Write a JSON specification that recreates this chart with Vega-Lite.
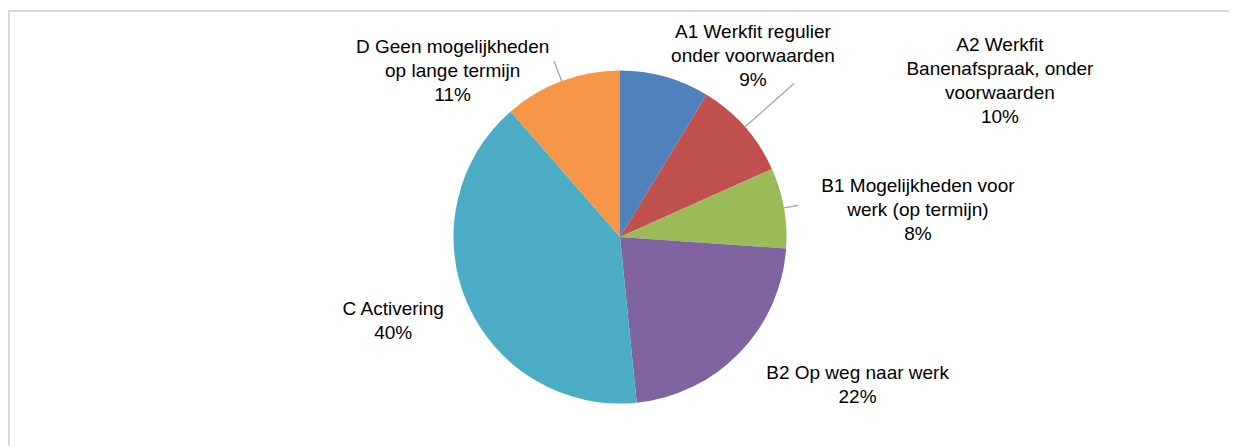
{
  "$schema": "https://vega.github.io/schema/vega-lite/v6.json",
  "width": 1222,
  "height": 452,
  "autosize": "none",
  "padding": {"left": 9, "top": 11, "right": -2, "bottom": -17},
  "background": "white",
  "view": {"stroke": "#d9d9d9", "strokeWidth": 2},
  "config": {"text": {"font": "Liberation Sans"}},
  "data": {
    "values": [
      {"code": "A1", "category": "A1 Werkfit regulier\nonder voorwaarden", "value": 8.7},
      {"code": "A2", "category": "A2 Werkfit\nBanenafspraak, onder\nvoorwaarden", "value": 9.6},
      {"code": "B1", "category": "B1 Mogelijkheden voor\nwerk (op termijn)", "value": 7.8},
      {"code": "B2", "category": "B2 Op weg naar werk", "value": 22.3},
      {"code": "C", "category": "C Activering", "value": 40.2},
      {"code": "D", "category": "D Geen mogelijkheden\nop lange termijn", "value": 11.4}
    ]
  },
  "transform": [
    {"calculate": "datum.category + '\\n' + format(datum.value, '.0f') + '%'", "as": "label"}
  ],
  "encoding": {
    "theta": {"field": "value", "type": "quantitative", "stack": true}
  },
  "layer": [
    {
      "mark": {"type": "arc", "outerRadius": 166.5},
      "encoding": {
        "color": {
          "field": "code",
          "type": "nominal",
          "scale": {
            "domain": ["A1", "A2", "B1", "B2", "C", "D"],
            "range": ["#4F81BD", "#C0504D", "#9BBB59", "#8064A2", "#4BACC6", "#F79646"]
          },
          "legend": null
        }
      }
    },
    {
      "mark": {
        "type": "arc",
        "radius": {"expr": "{'A2': 232, 'B1': 181, 'D': 188}[datum.code] || 166.5"},
        "radius2": 166.5,
        "padAngle": 3.1416,
        "fill": "#ffffff",
        "fillOpacity": 0,
        "stroke": "#a6a6a6",
        "strokeWidth": 1.3,
        "strokeOpacity": {"expr": "indexof(['A2', 'B1', 'D'], datum.code) >= 0 ? 1 : 0"}
      },
      "encoding": {
        "detail": {"field": "code", "type": "nominal"}
      }
    },
    {
      "mark": {
        "type": "text",
        "radius": 166.5,
        "align": "center",
        "baseline": "middle",
        "fontSize": 19,
        "lineHeight": 24,
        "lineBreak": "\n",
        "fill": "#000000",
        "dx": {"expr": "{'A1': 88, 'A2': 255, 'B1': 134, 'B2': 118, 'C': -74, 'D': -109}[datum.code]"},
        "dy": {"expr": "{'A1': -45, 'A2': -82, 'B1': -22, 'B2': 20, 'C': 6, 'D': -34}[datum.code]"}
      },
      "encoding": {
        "detail": {"field": "code", "type": "nominal"},
        "text": {"field": "label", "type": "nominal"}
      }
    }
  ]
}
